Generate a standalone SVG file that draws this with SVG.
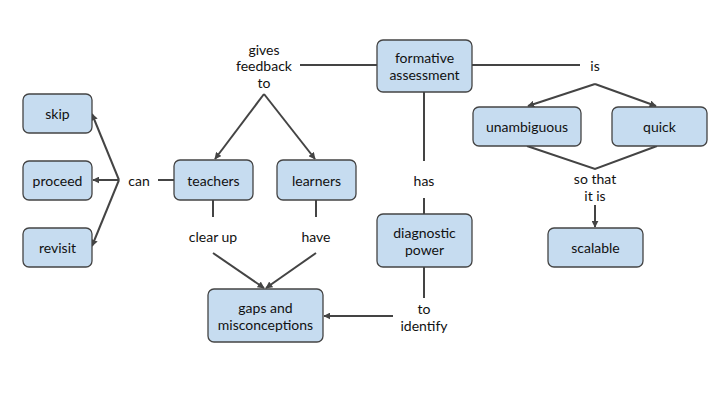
<svg xmlns="http://www.w3.org/2000/svg" width="720" height="405" viewBox="0 0 720 405">
<defs>
<style>
.n rect{fill:#c6dcf0;stroke:#444;stroke-width:1.3}
text{font-family:Lato,"Open Sans",sans-serif;font-size:14px;fill:#111;text-anchor:middle;dominant-baseline:central}
.c line,.c polyline{stroke:#444;stroke-width:2;fill:none}
.a{marker-end:url(#ah)}
</style>
<marker id="ah" viewBox="0 0 10 10" refX="9" refY="5" markerWidth="3.5" markerHeight="3.5" orient="auto" markerUnits="strokeWidth">
<path d="M0,0L10,5L0,10z" fill="#444"/>
</marker>
</defs>
<rect width="720" height="405" fill="#fff"/>
<g class="c" id="connectors">
<line x1="300" y1="65" x2="377" y2="65"/>
<line class="a" x1="264" y1="94" x2="215" y2="159"/>
<line class="a" x1="264" y1="94" x2="315" y2="159"/>
<line x1="472" y1="65" x2="580" y2="65"/>
<line class="a" x1="595" y1="84" x2="528" y2="106"/>
<line class="a" x1="595" y1="84" x2="656" y2="106"/>
<polyline points="527,146 595,169 657,146"/>
<line class="a" x1="595" y1="205" x2="595" y2="227"/>
<line x1="424" y1="92" x2="424" y2="161"/>
<line x1="424" y1="198" x2="424" y2="214"/>
<line x1="424" y1="267" x2="424" y2="298"/>
<line class="a" x1="393" y1="316" x2="324" y2="316"/>
<line x1="158" y1="180" x2="174" y2="180"/>
<line class="a" x1="119" y1="180" x2="92" y2="114"/>
<line class="a" x1="119" y1="180" x2="93" y2="180"/>
<line class="a" x1="119" y1="180" x2="92" y2="246"/>
<line x1="213" y1="200" x2="213" y2="217"/>
<line class="a" x1="213" y1="253" x2="264" y2="288"/>
<line x1="316" y1="200" x2="316" y2="217"/>
<line class="a" x1="316" y1="253" x2="266" y2="288"/>
</g>
<g id="labels">
<text x="264" y="49">gives</text>
<text x="264" y="65">feedback</text>
<text x="264" y="82">to</text>
<text x="595" y="65">is</text>
<text x="595" y="178">so that</text>
<text x="595" y="195">it is</text>
<text x="424" y="180">has</text>
<text x="424" y="308">to</text>
<text x="424" y="325">identify</text>
<text x="139" y="180">can</text>
<text x="213" y="236">clear up</text>
<text x="316" y="236">have</text>
</g>
<g class="n" id="skip"><rect x="23" y="94" width="69" height="39" rx="6"/><text x="57.5" y="113.5">skip</text></g>
<g class="n" id="proceed"><rect x="23" y="161" width="69" height="39" rx="6"/><text x="57.5" y="180.5">proceed</text></g>
<g class="n" id="revisit"><rect x="23" y="228" width="69" height="39" rx="6"/><text x="57.5" y="247.5">revisit</text></g>
<g class="n" id="teachers"><rect x="174" y="160" width="79" height="40" rx="6"/><text x="213.5" y="180">teachers</text></g>
<g class="n" id="learners"><rect x="277" y="160" width="79" height="40" rx="6"/><text x="316.5" y="180">learners</text></g>
<g class="n" id="gaps"><rect x="208" y="289" width="115" height="53" rx="6"/><text x="265.5" y="307">gaps and</text><text x="265.5" y="324">misconceptions</text></g>
<g class="n" id="formative"><rect x="377" y="40" width="95" height="52" rx="6"/><text x="424.5" y="57">formative</text><text x="424.5" y="74">assessment</text></g>
<g class="n" id="unambiguous"><rect x="473" y="107" width="108" height="39" rx="6"/><text x="527" y="126.5">unambiguous</text></g>
<g class="n" id="quick"><rect x="612" y="107" width="95" height="39" rx="6"/><text x="659.5" y="126.5">quick</text></g>
<g class="n" id="diagnostic"><rect x="377" y="214" width="95" height="53" rx="6"/><text x="424.5" y="232">diagnostic</text><text x="424.5" y="249">power</text></g>
<g class="n" id="scalable"><rect x="548" y="228" width="95" height="39" rx="6"/><text x="595.5" y="247.5">scalable</text></g>
</svg>
